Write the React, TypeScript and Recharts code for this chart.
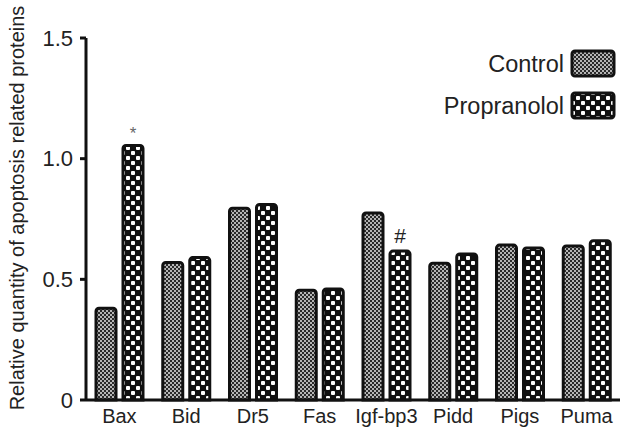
import React from "react";
import { BarChart, Bar, XAxis, YAxis, LabelList } from "recharts";

const categories = ["Bax", "Bid", "Dr5", "Fas", "Igf-bp3", "Pidd", "Pigs", "Puma"];
const controlValues = [0.38, 0.57, 0.795, 0.455, 0.775, 0.567, 0.642, 0.638];
const propranololValues = [1.055, 0.59, 0.81, 0.46, 0.617, 0.605, 0.63, 0.66];
const annotations = ["*", "", "", "", "#", "", "", ""];
const yTicks = [0, 0.5, 1.0, 1.5];
const yTickLabels = ["0", "0.5", "1.0", "1.5"];
const yAxisTitle = "Relative quantity of apoptosis related proteins";

const data = categories.map((c, i) => ({
  name: c,
  control: controlValues[i],
  propranolol: propranololValues[i],
  note: annotations[i],
}));

const FONT = "'Liberation Sans', Arial, sans-serif";

const Patterns = ({ prefix }: { prefix: string }) => (
  <defs>
    <pattern id={`${prefix}ctrl`} width="4" height="4" patternUnits="userSpaceOnUse">
      <rect width="4" height="4" fill="#2a2a2a" />
      <rect x="0" y="0" width="2" height="2" fill="#b5b5b5" />
      <rect x="2" y="2" width="2" height="2" fill="#b5b5b5" />
    </pattern>
    <pattern id={`${prefix}prop`} width="10" height="10" patternUnits="userSpaceOnUse">
      <rect width="10" height="10" fill="#111" />
      <rect x="1" y="1" width="4" height="4" rx="1" fill="#fff" />
      <rect x="6" y="6" width="4" height="4" rx="1" fill="#fff" />
    </pattern>
  </defs>
);

const NoteLabel = (props: any) => {
  const { x, y, width, index } = props;
  const t = annotations[index];
  if (!t) return null;
  const isStar = t === "*";
  return (
    <text
      x={x + width / 2}
      y={y - (isStar ? 6 : 8)}
      textAnchor="middle"
      fontFamily={FONT}
      fontSize={isStar ? 17 : 21}
      fill={isStar ? "#666" : "#222"}
    >
      {t}
    </text>
  );
};

const YTitle = () => {
  const cy = 208;
  const cx = 17;
  return (
    <text
      x={cx}
      y={cy}
      transform={`rotate(-90 ${cx} ${cy})`}
      textAnchor="middle"
      dominantBaseline="central"
      fontFamily={FONT}
      fontSize={20}
      fill="#222"
    >
      {yAxisTitle}
    </text>
  );
};

const Legend = () => (
  <div style={{ position: "absolute", left: 0, top: 0, width: 621, height: 430, pointerEvents: "none" }}>
    <svg width={621} height={430} style={{ position: "absolute", left: 0, top: 0 }}>
      <Patterns prefix="lg" />
      <text x={564} y={72} textAnchor="end" fontFamily={FONT} fontSize={23.5} fill="#222">
        Control
      </text>
      <rect x={572} y={51} width={42} height={25} rx={3} fill="url(#lgctrl)" stroke="#111" strokeWidth={3} />
      <text x={564} y={114} textAnchor="end" fontFamily={FONT} fontSize={23.5} fill="#222">
        Propranolol
      </text>
      <rect x={572} y={93} width={42} height={25} rx={3} fill="url(#lgprop)" stroke="#111" strokeWidth={3} />
    </svg>
  </div>
);

export default function App() {
  return (
    <div style={{ position: "absolute", left: 0, top: 0, width: 621, height: 430, background: "#fff" }}>
      <BarChart
        width={621}
        height={430}
        data={data}
        margin={{ top: 38, right: 1, bottom: 0, left: 0 }}
        barSize={20}
        barGap={7}
      >
        <Patterns prefix="ch" />
        <XAxis
          dataKey="name"
          height={30}
          axisLine={{ stroke: "#111", strokeWidth: 3 }}
          tickLine={false}
          tick={{ fontFamily: FONT, fontSize: 20, fill: "#222" }}
          tickMargin={3}
          interval={0}
        />
        <YAxis
          width={86}
          domain={[0, 1.5]}
          ticks={yTicks}
          tickFormatter={(v: number) => yTickLabels[yTicks.indexOf(v)] ?? String(v)}
          axisLine={{ stroke: "#111", strokeWidth: 3 }}
          tickLine={{ stroke: "#111", strokeWidth: 3 }}
          tickSize={6}
          tickMargin={7}
          tick={{ fontFamily: FONT, fontSize: 22, fill: "#222" }}
          label={<YTitle />}
        />
        <Bar
          dataKey="control"
          fill="url(#chctrl)"
          stroke="#111"
          strokeWidth={3}
          radius={[3, 3, 0, 0]}
          isAnimationActive={false}
        />
        <Bar
          dataKey="propranolol"
          fill="url(#chprop)"
          stroke="#111"
          strokeWidth={3}
          radius={[3, 3, 0, 0]}
          isAnimationActive={false}
        >
          <LabelList dataKey="note" content={NoteLabel} />
        </Bar>
      </BarChart>
      <Legend />
    </div>
  );
}
